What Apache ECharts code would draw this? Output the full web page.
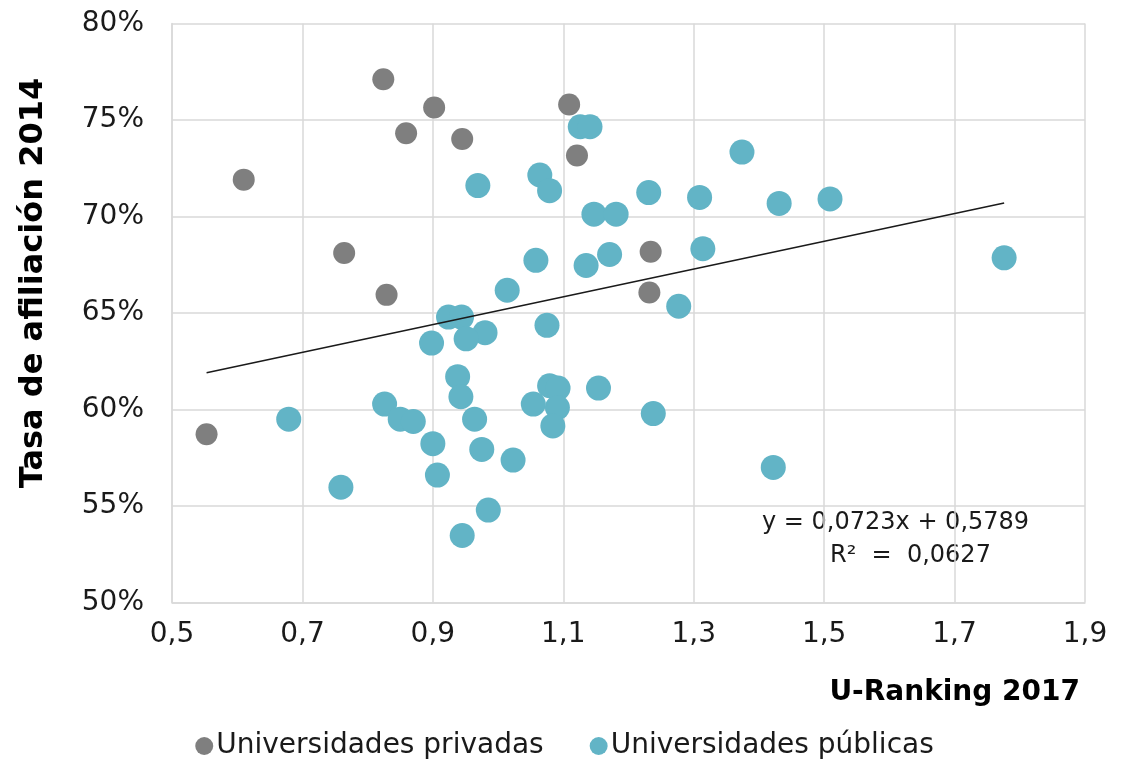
<!DOCTYPE html>
<html>
<head>
<meta charset="utf-8">
<script src="https://cdn.jsdelivr.net/npm/echarts@6/dist/echarts.min.js"></script>
<style>
html,body{margin:0;padding:0;background:#fff;}
#chart{width:1129px;height:762px;}
</style>
</head>
<body>
<div id="chart"></div>
<script>
// [U-Ranking 2017, Tasa de afiliación 2014]
const privadas = [
  [0.824, 0.7711], [0.902, 0.7565], [0.859, 0.7431], [0.945, 0.7402],
  [1.109, 0.7580], [1.121, 0.7316], [0.610, 0.7191], [0.764, 0.6811],
  [0.829, 0.6594], [1.234, 0.6817], [1.232, 0.6606], [0.553, 0.5872]
];
const publicas = [
  [1.126, 0.7465], [1.141, 0.7465], [0.969, 0.7160], [1.064, 0.7215],
  [1.079, 0.7134], [1.231, 0.7124], [1.374, 0.7334], [1.309, 0.7099],
  [1.431, 0.7068], [1.509, 0.7091], [1.147, 0.7012], [1.181, 0.7012],
  [1.058, 0.6773], [1.135, 0.6746], [1.171, 0.6803], [1.314, 0.6833],
  [1.776, 0.6786], [1.014, 0.6618], [1.277, 0.6535], [0.924, 0.6479],
  [0.944, 0.6479], [0.980, 0.6398], [1.075, 0.6436], [0.951, 0.6366],
  [0.898, 0.6344], [0.938, 0.6170], [0.943, 0.6066], [0.679, 0.5950],
  [0.826, 0.6028], [0.850, 0.5950], [0.870, 0.5938], [0.964, 0.5950],
  [0.900, 0.5823], [0.975, 0.5793], [1.023, 0.5738], [0.907, 0.5660],
  [0.759, 0.5597], [0.985, 0.5479], [0.945, 0.5347], [1.054, 0.6028],
  [1.079, 0.6123], [1.092, 0.6111], [1.091, 0.6010], [1.084, 0.5915],
  [1.154, 0.6111], [1.238, 0.5979], [1.422, 0.5700]
];
// trend line endpoints
const tendencia = [[0.553, 0.619], [1.776, 0.707]];
const seriesNames = ['Universidades privadas', 'Universidades públicas'];
const xTitle = 'U-Ranking 2017';
const yTitle = 'Tasa de afiliación 2014';
const eqLine1 = 'y = 0,0723x + 0,5789';
const eqLine2 = 'R²  =  0,0627';

const FONT = "'DejaVu Sans', Verdana, sans-serif";
const chart = echarts.init(document.getElementById('chart'));
chart.setOption({
  animation: false,
  backgroundColor: '#ffffff',
  textStyle: { fontFamily: FONT },
  grid: { left: 172, right: 44, top: 23.5, bottom: 159.5, containLabel: false, outerBoundsMode: 'none' },
  xAxis: {
    type: 'value', min: 0.5, max: 1.9, interval: 0.2,
    name: xTitle, nameLocation: 'end', nameGap: -5,
    nameTextStyle: { fontFamily: FONT, fontSize: 28, fontWeight: 'bold', color: '#000',
      align: 'right', verticalAlign: 'top', padding: [76, 0, 0, 0] },
    axisLine: { show: true, lineStyle: { color: '#d9d9d9', width: 1.5 } },
    axisTick: { show: false },
    splitLine: { show: true, lineStyle: { color: '#d9d9d9', width: 1.5 } },
    axisLabel: { fontSize: 28, color: '#1a1a1a', margin: 18, fontFamily: FONT,
      formatter: v => v.toFixed(1).replace('.', ',') }
  },
  yAxis: {
    type: 'value', min: 0.5, max: 0.8, interval: 0.05,
    name: yTitle, nameLocation: 'middle', nameGap: 122, nameRotate: 90,
    nameTextStyle: { fontFamily: FONT, fontSize: 32, fontWeight: 'bold', color: '#000',
      padding: [0, 0, 0, 60] },
    axisLine: { show: true, lineStyle: { color: '#d9d9d9', width: 1.5 } },
    axisTick: { show: false },
    splitLine: { show: true, lineStyle: { color: '#d9d9d9', width: 1.5 } },
    axisLabel: { fontSize: 28, color: '#1a1a1a', margin: 28, fontFamily: FONT,
      formatter: v => Math.round(v * 100) + '%' }
  },
  legend: {
    data: seriesNames, bottom: -3, left: 'center', itemGap: 46,
    icon: 'circle', itemWidth: 18, itemHeight: 18,
    textStyle: { fontSize: 28, color: '#1a1a1a', fontFamily: FONT, padding: [0, 0, 0, -2] }
  },
  graphic: [
    { type: 'text', left: 762, top: 511,
      style: { text: eqLine1, fontSize: 24, fontFamily: FONT, fill: '#1a1a1a' } },
    { type: 'text', left: 830, top: 544,
      style: { text: eqLine2, fontSize: 24, fontFamily: FONT, fill: '#1a1a1a' } }
  ],
  series: [
    { name: seriesNames[0], type: 'scatter', data: privadas, symbolSize: 22,
      itemStyle: { color: '#7f7f7f', opacity: 1 }, z: 2 },
    { name: seriesNames[1], type: 'scatter', data: publicas, symbolSize: 25,
      itemStyle: { color: '#62b4c6', opacity: 1 }, z: 3 },
    { name: 'Tendencia', type: 'line', data: tendencia, showSymbol: false, symbol: 'none',
      lineStyle: { color: '#1a1a1a', width: 1.5 }, z: 5, silent: true }
  ]
});
</script>
</body>
</html>
